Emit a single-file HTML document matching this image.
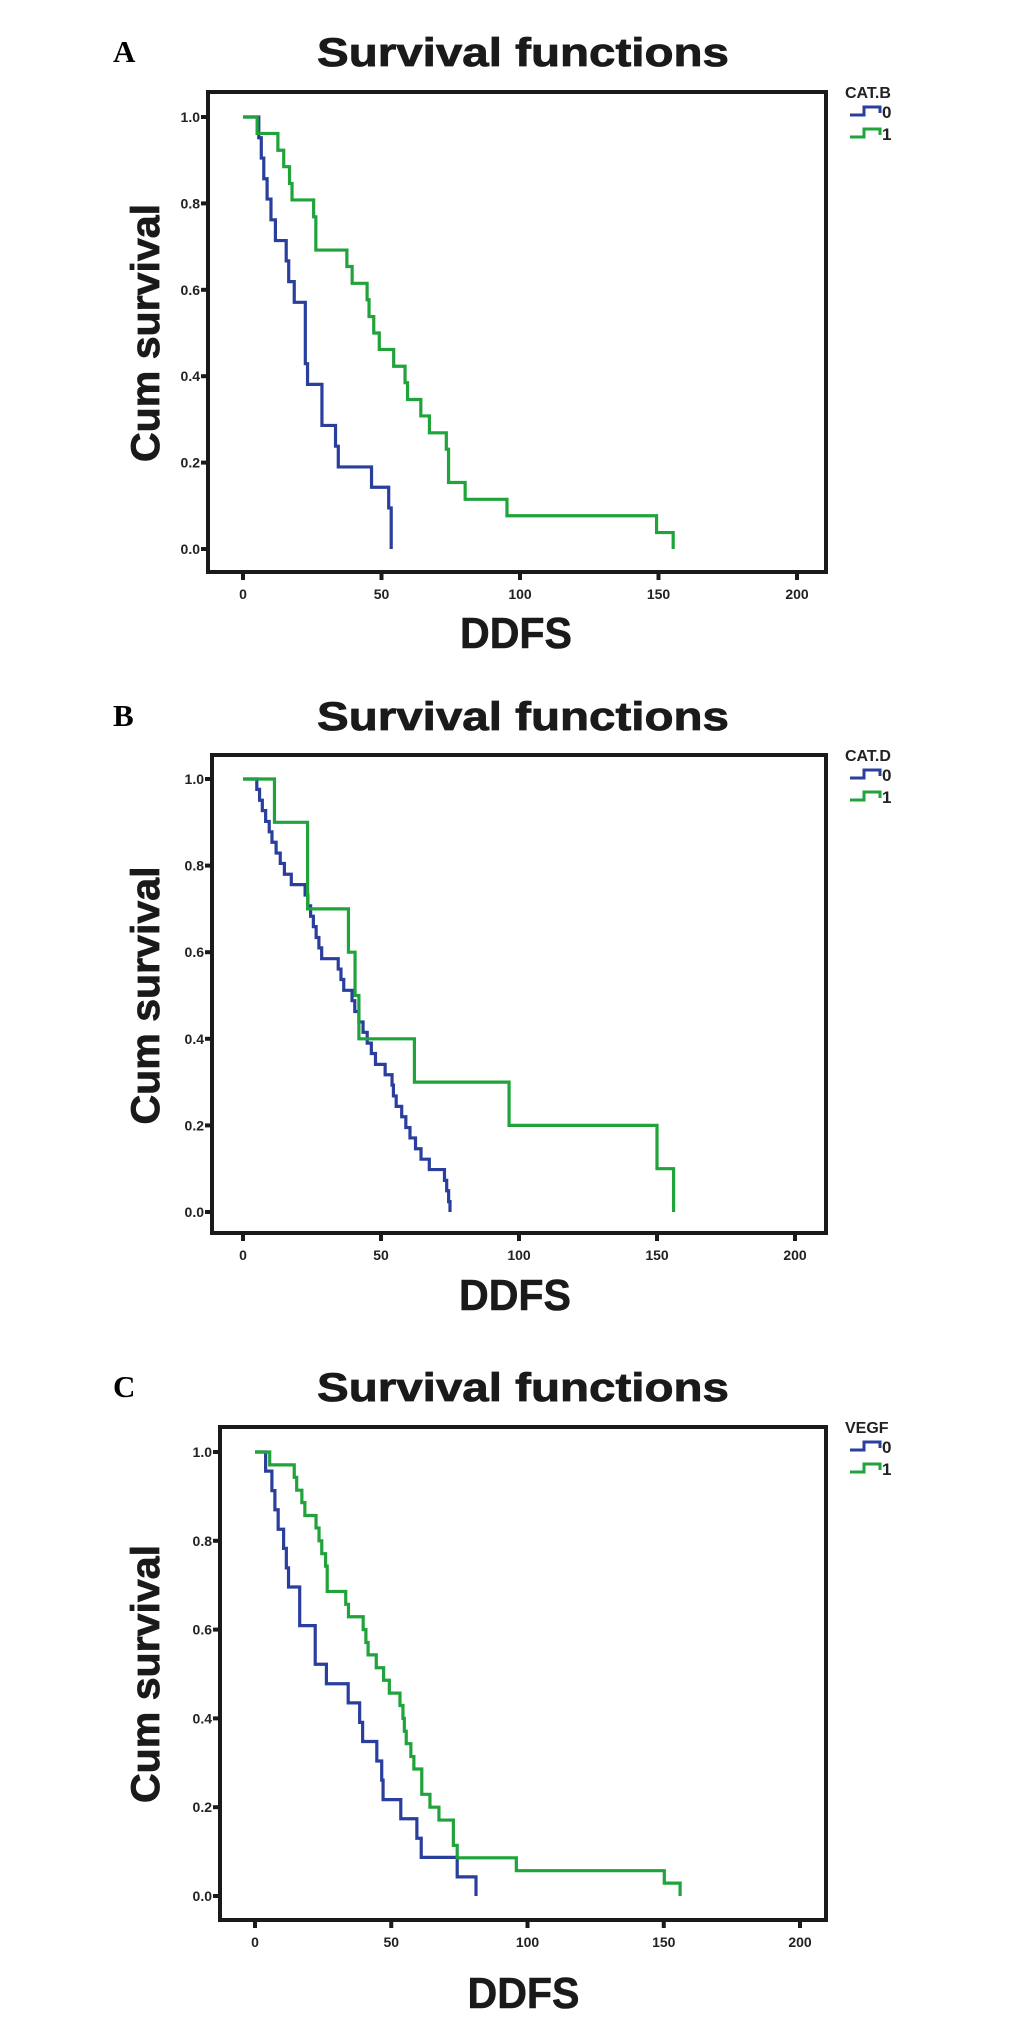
<!DOCTYPE html>
<html><head><meta charset="utf-8">
<style>
html,body{margin:0;padding:0;background:#fff;}
svg{display:block;}
text{font-family:"Liberation Sans",Arial,sans-serif;}
text.serif{font-family:"Liberation Serif","Times New Roman",serif;}
</style></head>
<body>
<svg id="fig" width="1033" height="2027" viewBox="0 0 1033 2027" xmlns="http://www.w3.org/2000/svg"></svg>
<script>
// ---- data ----
const xTicks = [0, 50, 100, 150, 200];
const yTicks = [0.0, 0.2, 0.4, 0.6, 0.8, 1.0];
const legendLabels = ["0", "1"];
const panelLetters = ["A", "B", "C"];
const groupVars = ["CAT.B", "CAT.D", "VEGF"];

const aTimes0 = [0,5.7,6.6,7.5,8.7,10.1,11.7,15.6,16.5,18.5,22.5,23.3,28.5,33.4,34.4,46.4,52.6,53.5];
const aSurv0  = [1,.952,.905,.857,.81,.762,.714,.667,.619,.571,.429,.381,.286,.238,.19,.143,.095,0];
const aTimes1 = [0,5.1,12.6,14.7,16.8,17.7,25.5,26.3,37.5,39.4,44.8,45.5,47.2,49.2,54.4,58.5,59.4,64.2,67.3,73.4,74.2,80.2,95.3,149.3,155.3];
const aSurv1  = [1,.962,.923,.885,.846,.808,.769,.692,.654,.615,.577,.538,.5,.462,.423,.385,.346,.308,.269,.231,.154,.115,.077,.038,0];

const bTimes0 = [0,5,6,7,8.2,9.5,10.5,12,13.5,15,17.5,22.5,23.5,24.5,25.5,26.5,27.5,28.5,34.5,35.5,36.5,39.5,40.5,42,43.5,45,46.5,48,51.5,54,54.5,55.5,57.5,59,60.5,62.5,64.5,67.5,73,73.8,74.5,75];
const bSurv0  = [1,.976,.951,.927,.902,.878,.854,.829,.805,.78,.756,.732,.707,.683,.659,.634,.61,.585,.561,.537,.512,.488,.463,.439,.415,.39,.366,.341,.317,.293,.268,.244,.22,.195,.171,.146,.122,.098,.073,.049,.024,0];
const bTimes1 = [0,11.4,23.4,38.2,40.6,42.0,62.1,96.4,150,156];
const bSurv1  = [1,.9,.7,.6,.5,.4,.3,.2,.1,0];

const cTimes0 = [0,3.9,6.2,7.3,8.5,10.5,11.5,12.3,16.4,22.1,26.2,34.2,38.4,39.5,44.7,46.5,47,53.5,59.4,61,74.2,81.1];
const cSurv0  = [1,.957,.913,.87,.826,.783,.739,.696,.609,.522,.478,.435,.391,.348,.304,.261,.217,.174,.13,.087,.043,0];
const cTimes1 = [0,5.4,14.4,15.3,17.2,18.3,22.4,23.5,24.5,25.9,26.5,33.3,34.3,39.7,40.7,41.5,44.5,47.2,49.3,53.2,54.3,54.8,55.5,57.2,58.3,61.2,64.2,67.5,72.8,74.2,95.9,150.2,156];
const cSurv1  = [1,.971,.943,.914,.886,.857,.829,.8,.771,.743,.686,.657,.629,.6,.571,.543,.514,.486,.457,.429,.4,.371,.343,.314,.286,.229,.2,.171,.114,.086,.057,.029,0];

// ---- layout ----
const panels = [
  {L:208,R:826,T:92,B:572, x0:243,x200:797, y1:117,y0:549, titleY:66, ddfsY:648, series:[[aTimes0,aSurv0],[aTimes1,aSurv1]]},
  {L:212,R:826,T:755,B:1233, x0:243,x200:795, y1:779,y0:1212, titleY:730, ddfsY:1310, series:[[bTimes0,bSurv0],[bTimes1,bSurv1]]},
  {L:220,R:826,T:1427,B:1920, x0:255,x200:800, y1:1452,y0:1896, titleY:1401, ddfsY:2008, series:[[cTimes0,cSurv0],[cTimes1,cSurv1]]}
];
const colors = ["#2a3f9d", "#1fa33a"];
const NS = "http://www.w3.org/2000/svg";
const svg = document.getElementById("fig");
function mk(tag, attrs, parent){
  const e = document.createElementNS(NS, tag);
  for (const k in attrs) e.setAttribute(k, attrs[k]);
  (parent||svg).appendChild(e);
  return e;
}

panels.forEach((p, i) => {
  const g = mk("g", {});
  
  
  const xs = t => p.x0 + (p.x200 - p.x0) * t / 200;
  const ys = s => p.y0 + (p.y1 - p.y0) * s;

  const letter = mk("text", {x:113, y:p.titleY - 4, "class":"serif", "font-weight":"bold", "font-size":"31"}, g);
  letter.textContent = panelLetters[i];
  
  

  const title = mk("text", {x:523, y:p.titleY, "text-anchor":"middle", "font-weight":"bold", "font-size":"40", textLength:"412", lengthAdjust:"spacingAndGlyphs", fill:"#1a1a1a", stroke:"#1a1a1a", "stroke-width":"0.8"}, g);
  title.textContent = "Survival functions";
  
  

  const frame = mk("rect", {x:p.L, y:p.T, width:p.R - p.L, height:p.B - p.T, fill:"none", stroke:"#1a1a1a", "stroke-width":"4"}, g);
  
  

  yTicks.forEach(v => {
    const y = ys(v);
    const tk = mk("line", {x1:p.L - 7, x2:p.L, y1:y, y2:y, stroke:"#1a1a1a", "stroke-width":"4"}, g);
    
    
    const lb = mk("text", {x:p.L - 8, y:y + 5, "text-anchor":"end", "font-size":"14", "font-weight":"bold", fill:"#222"}, g);
    lb.textContent = v.toFixed(1);
    
    
  });
  xTicks.forEach(v => {
    const x = xs(v);
    const tk = mk("line", {x1:x, x2:x, y1:p.B, y2:p.B + 8, stroke:"#1a1a1a", "stroke-width":"4"}, g);
    
    
    const lb = mk("text", {x:x, y:p.B + 27, "text-anchor":"middle", "font-size":"14", "font-weight":"bold", fill:"#222"}, g);
    lb.textContent = String(v);
    
    
  });

  const cy = (p.y0 + p.y1) / 2;
  const yl = mk("text", {x:0, y:0, transform:"translate(159," + cy + ") rotate(-90)", "text-anchor":"middle", "font-weight":"bold", "font-size":"40", textLength:"258", lengthAdjust:"spacingAndGlyphs", fill:"#1a1a1a", stroke:"#1a1a1a", "stroke-width":"0.8"}, g);
  yl.textContent = "Cum survival";
  
  

  const xl = mk("text", {x:(p.x0 + p.x200) / 2 - 4, y:p.ddfsY, "text-anchor":"middle", "font-weight":"bold", "font-size":"44", textLength:"112", lengthAdjust:"spacingAndGlyphs", fill:"#1a1a1a", stroke:"#1a1a1a", "stroke-width":"0.6"}, g);
  xl.textContent = "DDFS";
  
  

  p.series.forEach((sr, k) => {
    const [ts, ss] = sr;
    let d = "M" + xs(ts[0]) + "," + ys(ss[0]);
    for (let j = 1; j < ts.length; j++) {
      d += " H" + xs(ts[j]) + " V" + ys(ss[j]);
    }
    const path = mk("path", {d:d, fill:"none", stroke:colors[k], "stroke-width":"3.2"}, g);
    
    
  });

  // legend
  const lg = mk("g", {}, g);
  
  
  const lt = mk("text", {x:845, y:p.T + 6, "font-size":"16", "font-weight":"bold", fill:"#222"}, lg);
  lt.textContent = groupVars[i];
  
  
  legendLabels.forEach((lab, k) => {
    const yy = p.T + 19 + k * 22;
    const sym = mk("path", {d:"M850," + (yy + 4) + " H864 V" + (yy - 4) + " H880 V" + (yy + 2), fill:"none", stroke:colors[k], "stroke-width":"3"}, lg);
    
    
    const tx = mk("text", {x:882, y:yy + 7, "font-size":"17", "font-weight":"bold", fill:"#222"}, lg);
    tx.textContent = lab;
    
    
  });
});
</script>
</body></html>
